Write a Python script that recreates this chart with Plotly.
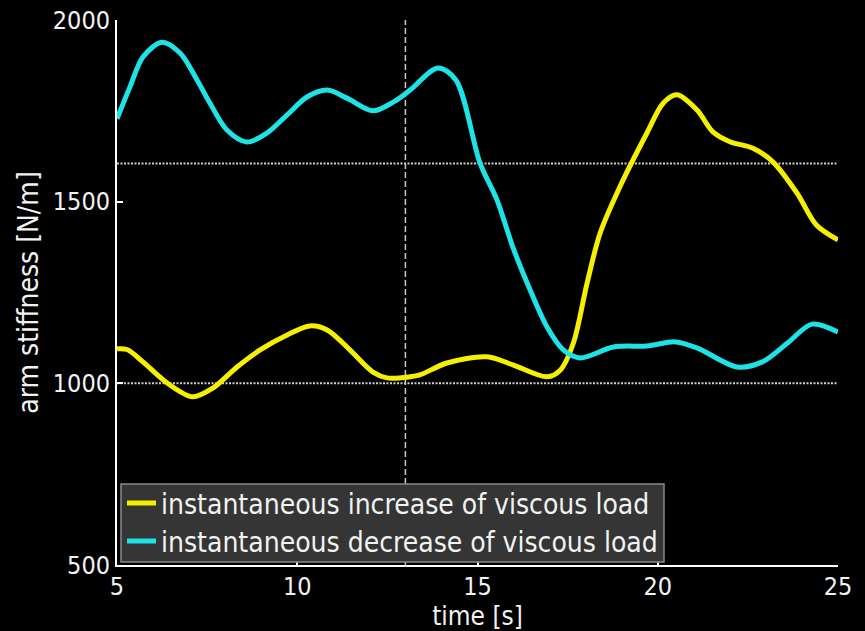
import plotly.graph_objects as go

# Time axis samples (s) and arm stiffness (N/m) for each condition
t_increase = [5.0, 5.28, 5.72, 6.39, 7.1, 7.66, 8.33, 8.97, 9.72, 10.35, 10.83, 11.46,
              12.1, 12.49, 13.13, 13.4, 14.15, 15.26, 15.98, 16.93, 17.3, 17.66, 18.04,
              18.4, 18.95, 19.7, 20.15, 20.53, 21.09, 21.53, 22.0, 22.64, 23.2, 23.86,
              24.4, 25.0]
k_increase = [1095, 1093, 1059, 1001, 963, 987, 1045, 1092, 1133, 1158, 1147, 1092,
              1031, 1015, 1018, 1023, 1056, 1073, 1051, 1018, 1037, 1111, 1276,
              1413, 1541, 1689, 1771, 1794, 1752, 1692, 1665, 1647, 1609, 1524,
              1436, 1395]

t_decrease = [5.0, 5.36, 5.72, 6.25, 6.75, 7.22, 7.58, 8.05, 8.6, 9.16, 9.72, 10.27,
              10.83, 11.38, 12.1, 12.66, 13.13, 13.9, 14.4, 15.07, 15.54, 15.98, 16.46,
              16.93, 17.38, 17.84, 18.77, 19.7, 20.5, 21.1, 22.2, 22.9, 23.6, 24.28, 25.0]
k_decrease = [1728, 1816, 1898, 1939, 1909, 1835, 1771, 1697, 1664, 1689, 1739, 1788,
              1807, 1785, 1750, 1774, 1807, 1868, 1835, 1606, 1505, 1375, 1257,
              1155, 1092, 1070, 1100, 1103, 1114, 1097, 1045, 1059, 1111, 1163, 1141]

series_names = ["instantaneous increase of viscous load",
                "instantaneous decrease of viscous load"]
series_colors = ["#f5f000", "#1ee3e6"]

# Reference markers: horizontal levels and event time
ref_levels = [1000, 1605]
event_time = 13

x_ticks = [5, 10, 15, 20, 25]
y_ticks = [500, 1000, 1500, 2000]

FONT = "DejaVu Sans Condensed"
TEXT = "#f2f2f2"

# Plot-area geometry in pixels (used to place the boxed key)
W, H = 865, 631
ML, MR, MT, MB = 117, 27, 20, 66
PW, PH = W - ML - MR, H - MT - MB


def px(xp):
    return (xp - ML) / PW


def py(yp):
    return (H - MB - yp) / PH


fig = go.Figure()
for tx, ky, name, col in zip([t_increase, t_decrease], [k_increase, k_decrease],
                             series_names, series_colors):
    fig.add_trace(go.Scatter(
        x=tx, y=ky, name=name, mode="lines", showlegend=False,
        line=dict(color=col, width=5, shape="spline", smoothing=0.9),
    ))

for lv in ref_levels:
    fig.add_shape(type="line", xref="x", yref="y", x0=x_ticks[0], x1=x_ticks[-1],
                  y0=lv, y1=lv, line=dict(color="#d0d0d0", width=2, dash="2px,1.5px"),
                  layer="below")
fig.add_shape(type="line", xref="x", yref="y", x0=event_time, x1=event_time,
              y0=y_ticks[0], y1=y_ticks[-1],
              line=dict(color="#c8c8c8", width=1.5, dash="6px,3px"), layer="below")

# Boxed key in the lower-left corner of the axes
fig.add_shape(type="rect", xref="paper", yref="paper",
              x0=px(121), x1=px(664), y0=py(562), y1=py(484),
              fillcolor="#353535", line=dict(color="#8a8a8a", width=1.5), layer="above")
for i, (name, col) in enumerate(zip(series_names, series_colors)):
    yc = 503 + 38 * i
    fig.add_shape(type="line", xref="paper", yref="paper",
                  x0=px(127), x1=px(156), y0=py(yc), y1=py(yc),
                  line=dict(color=col, width=5), layer="above")
    fig.add_annotation(xref="paper", yref="paper", x=px(159), y=py(yc + 1),
                       xanchor="left", yanchor="middle", showarrow=False,
                       text=name, font=dict(family=FONT, size=28, color=TEXT))

axis_common = dict(
    showgrid=False, zeroline=False, showline=True, linecolor="white", linewidth=2,
    ticks="inside", ticklen=6, tickwidth=2, tickcolor="white", automargin=False,
    tickfont=dict(family=FONT, size=25, color=TEXT),
)

fig.update_xaxes(range=[x_ticks[0], x_ticks[-1]], tickvals=x_ticks,
                 ticklabelstandoff=-2,
                 title=dict(text="time [s]", font=dict(family=FONT, size=26, color=TEXT),
                            standoff=4),
                 **axis_common)
fig.update_yaxes(range=[y_ticks[0], y_ticks[-1]], tickvals=y_ticks,
                 title=dict(text="arm stiffness [N/m]",
                            font=dict(family=FONT, size=28, color=TEXT), standoff=6),
                 **axis_common)

fig.update_layout(
    width=W, height=H,
    margin=dict(l=ML, r=MR, t=MT, b=MB),
    paper_bgcolor="black", plot_bgcolor="black",
    font=dict(family=FONT, color="white"),
    showlegend=False,
)

fig.write_html("out.html")
